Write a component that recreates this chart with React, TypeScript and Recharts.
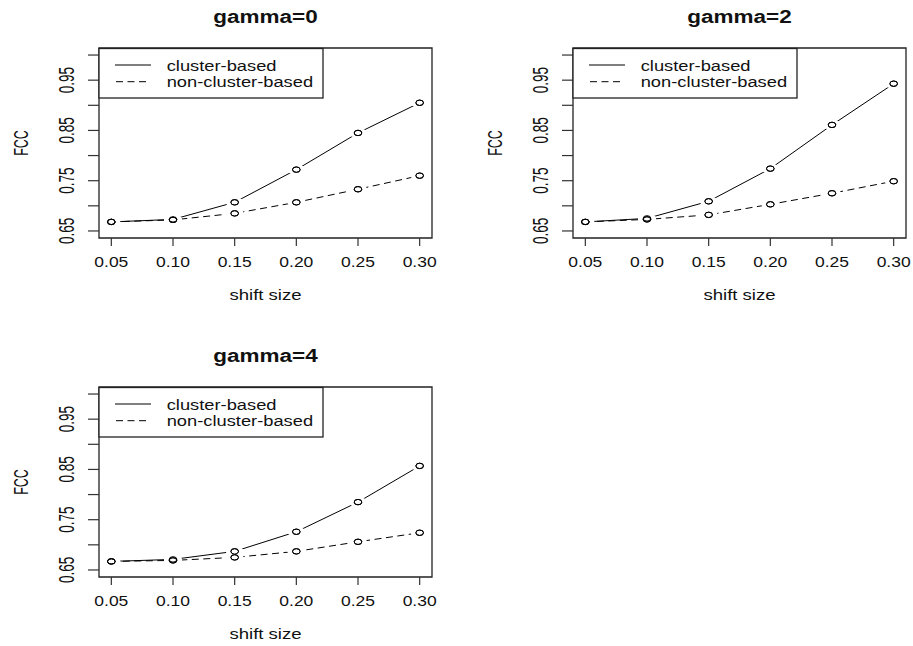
import React from 'react';
import {
  ComposedChart,
  Line,
  XAxis,
  YAxis,
  ReferenceArea,
  Legend,
  Label,
} from 'recharts';

// ---- data ----
const SHIFT = [0.05, 0.1, 0.15, 0.2, 0.25, 0.3];
const X_TICKS = [0.05, 0.1, 0.15, 0.2, 0.25, 0.3];
const Y_TICKS = [0.65, 0.7, 0.75, 0.8, 0.85, 0.9, 0.95, 1.0];
const Y_LABELS = [0.65, 0.75, 0.85, 0.95];
const SERIES_NAMES = ['cluster-based', 'non-cluster-based'];
const TITLES = ['gamma=0', 'gamma=2', 'gamma=4'];

const CLUSTER_G0 = [0.668, 0.673, 0.707, 0.772, 0.845, 0.905];
const NONCLUSTER_G0 = [0.668, 0.672, 0.685, 0.707, 0.733, 0.76];
const CLUSTER_G2 = [0.668, 0.675, 0.709, 0.774, 0.861, 0.943];
const NONCLUSTER_G2 = [0.668, 0.673, 0.682, 0.703, 0.725, 0.749];
const CLUSTER_G4 = [0.667, 0.671, 0.687, 0.726, 0.785, 0.857];
const NONCLUSTER_G4 = [0.667, 0.669, 0.675, 0.687, 0.706, 0.724];

const FONT = '"Liberation Sans", Arial, Helvetica, sans-serif';
const INK = '#111';
const PLOT_LEFT = 99;
const PLOT_TOP = 48;
const PLOT_W = 333;
const CHART_H = 323;
const X_AXIS_H = 30;
const BOTTOM = 55;
const X_DOMAIN = [0.04, 0.31];
const Y_DOMAIN = [0.636, 1.014];
const DASH = '7 4.5';

const XTick = (p: any) => (
  <g transform={`translate(${p.x},${p.y + 21})`}>
    <text x={0} y={0} textAnchor="middle" fontSize={14} fontFamily={FONT} fill={INK} transform="scale(1.25,1)">
      {Number(p.payload.value).toFixed(2)}
    </text>
  </g>
);

const YTick = (p: any) => {
  const v = Number(p.payload.value);
  if (!Y_LABELS.some((l) => Math.abs(l - v) < 1e-6)) return <g />;
  return (
    <g transform={`translate(${p.x - 14},${p.y}) rotate(-90) scale(1,1.62)`}>
      <text x={0} y={0} textAnchor="middle" fontSize={13.5} fontFamily={FONT} fill={INK}>
        {v.toFixed(2)}
      </text>
    </g>
  );
};

const XTitle = (props: any) => {
  const vb = props.viewBox || { x: PLOT_LEFT, y: 238, width: PLOT_W, height: 30 };
  return (
    <g transform={`translate(${vb.x + vb.width / 2},${vb.y + 62}) scale(1.28,1)`}>
      <text x={0} y={0} textAnchor="middle" fontSize={14.5} fontFamily={FONT} fill={INK}>
        shift size
      </text>
    </g>
  );
};

const YTitle = (props: any) => {
  const vb = props.viewBox || { x: 39, y: 48, width: 60, height: 190 };
  return (
    <g transform={`translate(${vb.x + vb.width - 70.7},${vb.y + vb.height / 2}) rotate(-90) scale(1,1.68)`}>
      <text x={0} y={0} textAnchor="middle" fontSize={12.5} fontFamily={FONT} fill={INK}>
        FCC
      </text>
    </g>
  );
};

// point marker drawn as the line's label: white gap + open symbol (R type="b")
const MarkerLabel = (p: any) => {
  const vb = p.viewBox || {};
  const cx = typeof vb.x === 'number' ? vb.x : p.x;
  const cy = typeof vb.y === 'number' ? vb.y : p.y;
  if (typeof cx !== 'number' || typeof cy !== 'number' || !isFinite(cx) || !isFinite(cy)) return null;
  return (
    <g>
      <ellipse cx={cx} cy={cy} rx={9} ry={5} fill="#ffffff" stroke="none" />
      <ellipse cx={cx} cy={cy} rx={3.8} ry={2.7} fill="none" stroke="#000" strokeWidth={1} />
    </g>
  );
};

const RingDot = (p: any) => (
  <ellipse key={`r-${p.dataKey}-${p.index}`} cx={p.cx} cy={p.cy} rx={3.8} ry={2.7} fill="none" stroke="#000" strokeWidth={1} />
);

const LegendBox = () => (
  <svg width={228} height={52} style={{ display: 'block', overflow: 'visible' }}>
    <rect x={1} y={0.5} width={224} height={49.5} fill="#fff" stroke="#222" strokeWidth={1.3} />
    {SERIES_NAMES.map((name, i) => (
      <g key={name}>
        <line
          x1={i === 0 ? 17 : 18}
          x2={i === 0 ? 53 : 48}
          y1={17 + i * 16.7}
          y2={17 + i * 16.7}
          stroke="#000"
          strokeWidth={1}
          strokeDasharray={i === 0 ? undefined : DASH}
        />
        <g transform={`translate(68.7,${23 + i * 16.3}) scale(1.22,1)`}>
          <text x={0} y={0} fontSize={15} fontFamily={FONT} fill={INK}>
            {name}
          </text>
        </g>
      </g>
    ))}
  </svg>
);

function Panel({ title, cluster, nonCluster, left, top, width }: any) {
  const data = SHIFT.map((x, i) => ({ x, c: cluster[i], n: nonCluster[i] }));
  const markerData = SHIFT.map((x, i) => ({ x, ringC: cluster[i], ringN: nonCluster[i] }));
  const right = width - PLOT_LEFT - PLOT_W;
  return (
    <div style={{ position: 'absolute', left, top, width, height: CHART_H }}>
      <ComposedChart
        width={width}
        height={CHART_H}
        data={data}
        margin={{ top: PLOT_TOP, right, left: 39, bottom: BOTTOM }}
      >
        <XAxis
          dataKey="x"
          type="number"
          domain={X_DOMAIN}
          ticks={X_TICKS}
          interval={0}
          axisLine={false}
          tickSize={8}
          tickMargin={0}
          tickLine={{ stroke: '#333', strokeWidth: 1.2 }}
          tick={XTick}
          height={X_AXIS_H}
        >
          <Label content={XTitle} />
        </XAxis>
        <YAxis
          type="number"
          domain={Y_DOMAIN}
          ticks={Y_TICKS}
          interval={0}
          axisLine={false}
          tickSize={11}
          tickMargin={0}
          tickLine={{ stroke: '#333', strokeWidth: 1.2 }}
          tick={YTick}
          width={60}
        >
          <Label content={YTitle} />
        </YAxis>
        <ReferenceArea
          x1={X_DOMAIN[0]}
          x2={X_DOMAIN[1]}
          y1={Y_DOMAIN[0]}
          y2={Y_DOMAIN[1]}
          fill="none"
          fillOpacity={0}
          stroke="#222"
          strokeWidth={1.3}
          ifOverflow="visible"
        />
        <Line
          dataKey="c"
          name={SERIES_NAMES[0]}
          stroke="#000"
          strokeWidth={1}
          dot={false}
          activeDot={false}
          label={MarkerLabel}
          isAnimationActive={false}
        />
        <Line
          dataKey="n"
          name={SERIES_NAMES[1]}
          stroke="#000"
          strokeWidth={1}
          strokeDasharray={DASH}
          dot={false}
          activeDot={false}
          label={MarkerLabel}
          isAnimationActive={false}
        />
        <Legend
          verticalAlign="middle"
          align="center"
          layout="horizontal"
          content={() => <LegendBox />}
          wrapperStyle={{ position: 'absolute', left: PLOT_LEFT - 1, top: PLOT_TOP, width: 228, height: 52, margin: 0 }}
        />
      </ComposedChart>
      {/* open symbols on top of everything */}
      <div style={{ position: 'absolute', left: 0, top: 0, zIndex: 2, pointerEvents: 'none' }}>
        <ComposedChart
          width={width}
          height={CHART_H}
          data={markerData}
          margin={{ top: PLOT_TOP, right, left: PLOT_LEFT, bottom: BOTTOM + X_AXIS_H }}
        >
          <XAxis dataKey="x" type="number" domain={X_DOMAIN} hide />
          <YAxis type="number" domain={Y_DOMAIN} hide />
          <Line dataKey="ringC" stroke="none" strokeWidth={0} dot={RingDot} activeDot={false} legendType="none" isAnimationActive={false} />
          <Line dataKey="ringN" stroke="none" strokeWidth={0} dot={RingDot} activeDot={false} legendType="none" isAnimationActive={false} />
        </ComposedChart>
      </div>
      <svg width={width} height={32} style={{ position: 'absolute', left: 0, top: 0, zIndex: 3, pointerEvents: 'none' }}>
        <g transform={`translate(${PLOT_LEFT + PLOT_W / 2},23.3) scale(1.25,1)`}>
          <text x={0} y={0} textAnchor="middle" fontSize={18} fontWeight="bold" fontFamily={FONT} fill={INK}>
            {title}
          </text>
        </g>
      </svg>
    </div>
  );
}

export default function App() {
  return (
    <div
      style={{
        position: 'absolute',
        left: 0,
        top: 0,
        width: 913,
        height: 646,
        overflow: 'hidden',
        background: '#fff',
      }}
    >
      <Panel title={TITLES[0]} cluster={CLUSTER_G0} nonCluster={NONCLUSTER_G0} left={0} top={0} width={457} />
      <Panel title={TITLES[1]} cluster={CLUSTER_G2} nonCluster={NONCLUSTER_G2} left={474} top={0} width={439} />
      <Panel title={TITLES[2]} cluster={CLUSTER_G4} nonCluster={NONCLUSTER_G4} left={0} top={339} width={457} />
    </div>
  );
}
